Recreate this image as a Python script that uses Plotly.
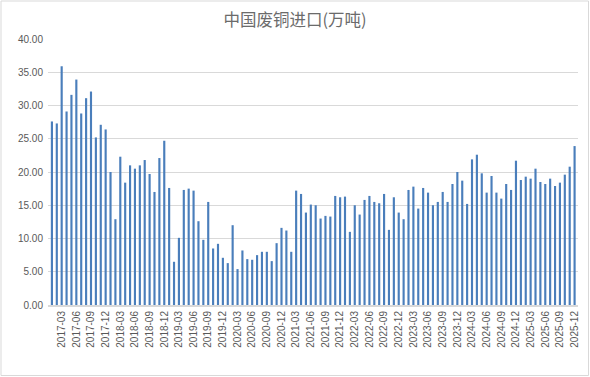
import plotly.graph_objects as go

months = [f"{y}-{m:02d}" for y in range(2017, 2026) for m in range(1, 13)]

imports = [
    27.6, 27.3, 35.9, 29.1, 31.6, 33.9, 28.8, 31.1, 32.1, 25.2, 27.1, 26.4,   # 2017
    20.0, 12.9, 22.3, 18.4, 21.0, 20.5, 21.0, 21.8, 19.7, 17.0, 22.1, 24.7,   # 2018
    17.6, 6.5, 10.1, 17.3, 17.5, 17.2, 12.6, 9.8, 15.5, 8.5, 9.2, 7.1,        # 2019
    6.3, 12.0, 5.4, 8.2, 6.9, 6.8, 7.5, 8.0, 8.0, 6.6, 9.3, 11.6,             # 2020
    11.2, 8.0, 17.2, 16.7, 13.9, 15.1, 15.0, 13.0, 13.4, 13.3, 16.4, 16.2,    # 2021
    16.3, 11.0, 15.0, 13.6, 15.8, 16.4, 15.5, 15.3, 16.7, 11.3, 16.2, 13.9,   # 2022
    12.9, 17.3, 17.8, 14.5, 17.6, 16.9, 15.0, 15.5, 17.0, 15.5, 18.2, 20.0,   # 2023
    18.7, 15.2, 21.9, 22.6, 19.8, 16.9, 19.4, 16.9, 16.0, 18.2, 17.3, 21.7,   # 2024
    18.8, 19.3, 19.0, 20.5, 18.5, 18.2, 19.0, 17.9, 18.4, 19.6, 20.8, 23.9,   # 2025
]

tick_labels = months[2::3]
title_text = "中国废铜进口(万吨)"

W, H = 590, 377
L, R, T, B = 48, 12, 39, 72
pw, ph = W - L - R, H - T - B

fig = go.Figure(go.Bar(
    x=months, y=imports,
    marker=dict(color="#4a7ebb", line=dict(width=0)),
))

fig.update_layout(
    width=W, height=H,
    margin=dict(l=L, r=R, t=T, b=B, autoexpand=False),
    paper_bgcolor="white", plot_bgcolor="rgba(0,0,0,0)",
    bargap=0.56,
    showlegend=False,
    title=dict(text=title_text, x=0.5, xanchor="center", y=1 - 20 / H, yanchor="middle",
               font=dict(family="Noto Sans CJK SC", size=16.5, color="#6b6b6b")),
    font=dict(family="Liberation Sans, Arial", color="#595959"),
    xaxis=dict(type="category", tickmode="array", tickvals=tick_labels, ticktext=tick_labels,
               tickangle=-90, tickfont=dict(size=10, color="#595959"), automargin=False,
               showgrid=False, showline=True, linecolor="#d9d9d9", linewidth=2,
               ticks="", range=[-0.8, len(months) - 0.3]),
    yaxis=dict(range=[0, 40], dtick=5, tickformat=".2f", showgrid=True, gridcolor="#d9d9d9",
               gridwidth=1, zeroline=False, tickfont=dict(size=10, color="#595959"),
               ticks="", automargin=False, ticklabelstandoff=4),
    shapes=[dict(type="rect", xref="paper", yref="paper",
                 x0=(1 - L) / pw, x1=(W - 1.5 - L) / pw,
                 y0=(T + ph - (H - 1.5)) / ph, y1=(T + ph - 1) / ph,
                 line=dict(color="#d9d9d9", width=1), fillcolor="rgba(0,0,0,0)", layer="above")],
)

fig.write_html("out.html", config={"displayModeBar": False},
               post_script="document.body.style.margin='0';document.body.style.overflow='hidden';")
